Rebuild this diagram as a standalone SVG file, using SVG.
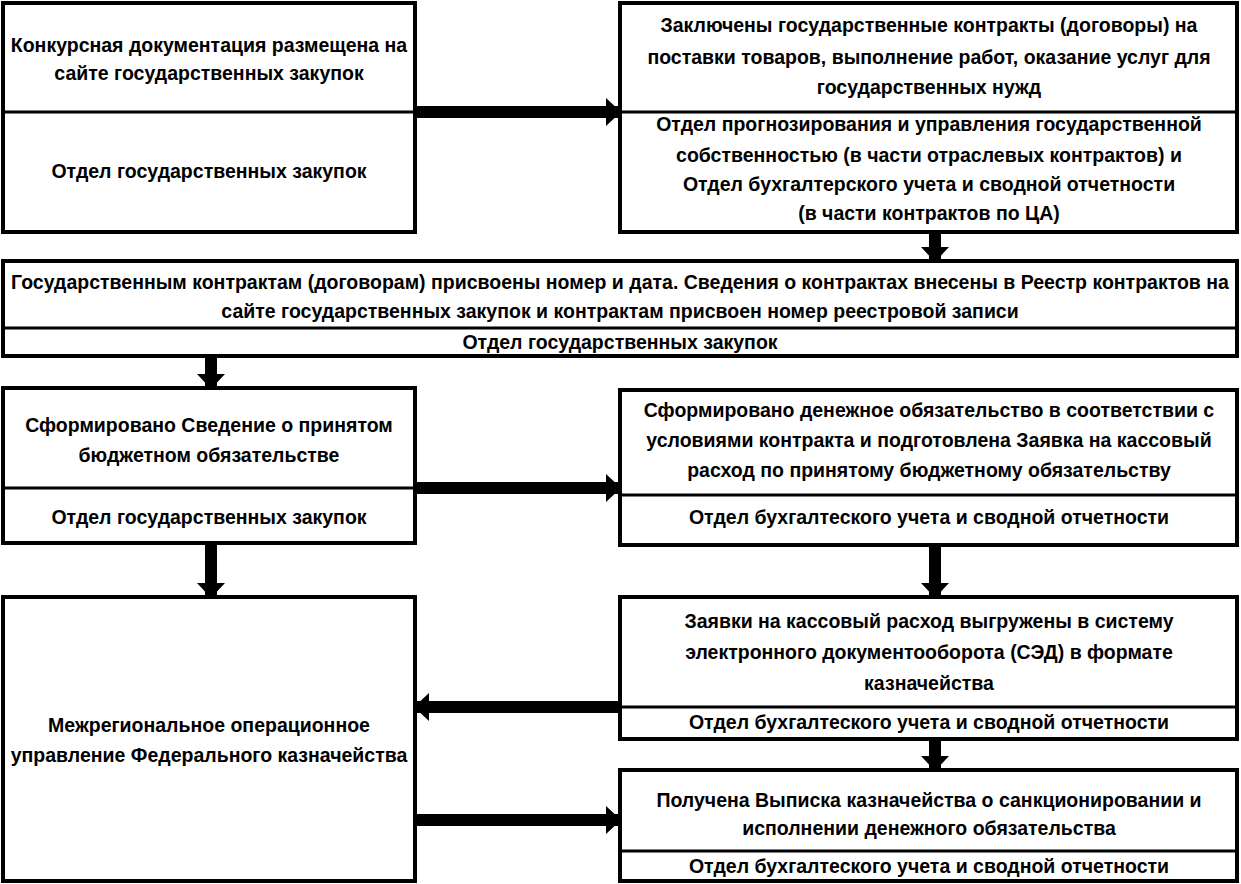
<svg xmlns="http://www.w3.org/2000/svg" width="1241" height="884" viewBox="0 0 1241 884">
<style>
.box{fill:#fff;stroke:#000;stroke-width:4}
.div{stroke:#000;stroke-width:3}
text{font-family:"Liberation Sans",Arial,sans-serif;font-weight:bold;font-size:19.5px;fill:#000;text-anchor:middle}
.conn{stroke:#000;stroke-width:12;fill:none;marker-end:url(#ah)}
</style>
<defs>
<marker id="ah" markerUnits="userSpaceOnUse" viewBox="0 0 15 30" markerWidth="15" markerHeight="30" refX="14" refY="15" orient="auto">
<path d="M0,1 L15,15 L0,29 Z" fill="#000"/>
</marker>
</defs>
<rect width="1241" height="884" fill="#fff"/>
<g id="connectors">
<line class="conn" x1="417" y1="112" x2="620" y2="112"/>
<line class="conn" x1="935" y1="234" x2="935" y2="261"/>
<line class="conn" x1="211" y1="358" x2="211" y2="388"/>
<line class="conn" x1="417" y1="488" x2="620" y2="488"/>
<line class="conn" x1="211" y1="545" x2="211" y2="597"/>
<line class="conn" x1="935" y1="547" x2="935" y2="597"/>
<line class="conn" x1="618" y1="707" x2="415" y2="707"/>
<line class="conn" x1="935" y1="741" x2="935" y2="770"/>
<line class="conn" x1="417" y1="820" x2="620" y2="820"/>
</g>
<g id="nodeA">
<rect class="box" x="3" y="3" width="412" height="229"/>
<line class="div" x1="3" y1="112" x2="415" y2="112"/>
<text x="209" y="52">Конкурсная документация размещена на</text>
<text x="209" y="80">сайте государственных закупок</text>
<text x="209" y="178">Отдел государственных закупок</text>
</g>
<g id="nodeB">
<rect class="box" x="620" y="3" width="617" height="229"/>
<line class="div" x1="620" y1="112" x2="1237" y2="112"/>
<text x="929" y="32">Заключены государственные контракты (договоры) на</text>
<text x="929" y="64">поставки товаров, выполнение работ, оказание услуг для</text>
<text x="929" y="94">государственных нужд</text>
<text x="929" y="131">Отдел прогнозирования и управления государственной</text>
<text x="929" y="162">собственностью (в части отраслевых контрактов) и</text>
<text x="929" y="191">Отдел бухгалтерского учета и сводной отчетности</text>
<text x="929" y="220">(в части контрактов по ЦА)</text>
</g>
<g id="nodeC">
<rect class="box" x="3" y="261" width="1234" height="95"/>
<line class="div" x1="3" y1="328" x2="1237" y2="328"/>
<text x="620" y="289">Государственным контрактам (договорам) присвоены номер и дата. Сведения о контрактах внесены в Реестр контрактов на</text>
<text x="620" y="318">сайте государственных закупок и контрактам присвоен номер реестровой записи</text>
<text x="620" y="349">Отдел государственных закупок</text>
</g>
<g id="nodeD">
<rect class="box" x="3" y="388" width="412" height="155"/>
<line class="div" x1="3" y1="488" x2="415" y2="488"/>
<text x="209" y="432">Сформировано Сведение о принятом</text>
<text x="209" y="462">бюджетном обязательстве</text>
<text x="209" y="524">Отдел государственных закупок</text>
</g>
<g id="nodeE">
<rect class="box" x="620" y="390" width="617" height="155"/>
<line class="div" x1="620" y1="495" x2="1237" y2="495"/>
<text x="929" y="417">Сформировано денежное обязательство в соответствии с</text>
<text x="929" y="447">условиями контракта и подготовлена Заявка на кассовый</text>
<text x="929" y="477">расход по принятому бюджетному обязательству</text>
<text x="929" y="524">Отдел бухгалтеского учета и сводной отчетности</text>
</g>
<g id="nodeG">
<rect class="box" x="3" y="597" width="412" height="284"/>
<text x="209" y="732">Межрегиональное операционное</text>
<text x="209" y="762">управление Федерального казначейства</text>
</g>
<g id="nodeF">
<rect class="box" x="620" y="597" width="617" height="142"/>
<line class="div" x1="620" y1="707" x2="1237" y2="707"/>
<text x="929" y="628">Заявки на кассовый расход выгружены в систему</text>
<text x="929" y="659">электронного документооборота (СЭД) в формате</text>
<text x="929" y="690">казначейства</text>
<text x="929" y="729">Отдел бухгалтеского учета и сводной отчетности</text>
</g>
<g id="nodeH">
<rect class="box" x="620" y="770" width="617" height="111"/>
<line class="div" x1="620" y1="851" x2="1237" y2="851"/>
<text x="929" y="807">Получена Выписка казначейства о санкционировании и</text>
<text x="929" y="835">исполнении денежного обязательства</text>
<text x="929" y="873">Отдел бухгалтеского учета и сводной отчетности</text>
</g>
</svg>
